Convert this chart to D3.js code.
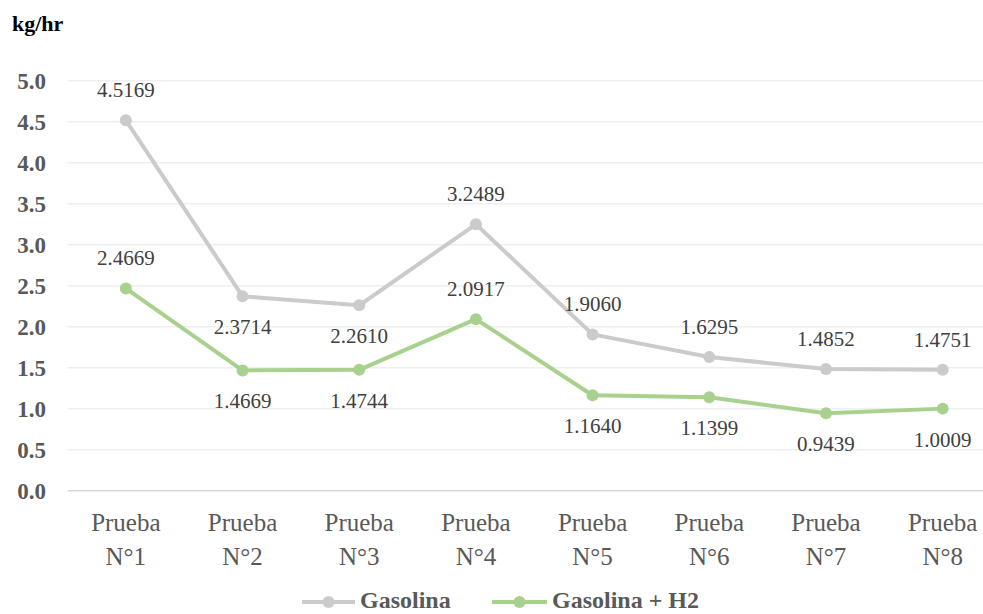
<!DOCTYPE html>
<html><head><meta charset="utf-8"><script src="https://cdn.jsdelivr.net/npm/d3@7"></script></head>
<body style="margin:0;background:#ffffff">
<svg id="s" width="983" height="614" style="display:block"></svg>
<script>
// Consumo de combustible por prueba (kg/hr)
const categories = ["Prueba N°1", "Prueba N°2", "Prueba N°3", "Prueba N°4",
                    "Prueba N°5", "Prueba N°6", "Prueba N°7", "Prueba N°8"];
const gasolina   = [4.5169, 2.3714, 2.2610, 3.2489, 1.9060, 1.6295, 1.4852, 1.4751];
const gasolinaH2 = [2.4669, 1.4669, 1.4744, 2.0917, 1.1640, 1.1399, 0.9439, 1.0009];
// where each value label sits relative to its point
const gasolinaLabelPos   = ["above", "below", "below", "above", "above", "above", "above", "above"];
const gasolinaH2LabelPos = ["above", "below", "below", "above", "below", "below", "below", "below"];
const yTicks = [0, 0.5, 1.0, 1.5, 2.0, 2.5, 3.0, 3.5, 4.0, 4.5, 5.0];
const seriesNames = ["Gasolina", "Gasolina + H2"];
const seriesColors = ["#cbcbcb", "#a9d18e"];

const svg = d3.select("#s");
const W = 983;
const plot = { left: 67.5, right: 1001, top: 80.7, bottom: 490.7 };

const x = d3.scaleBand().domain(categories).range([plot.left, plot.right]);
const cx = d => x(d) + x.bandwidth() / 2;
const y = d3.scaleLinear().domain([0, 5]).range([plot.bottom, plot.top]);

// horizontal gridlines
svg.append("g").selectAll("line").data(yTicks.filter(t => t > 0)).join("line")
  .attr("x1", plot.left).attr("x2", W)
  .attr("y1", d => y(d)).attr("y2", d => y(d))
  .attr("stroke", "#efefef").attr("stroke-width", 1.5);

// baseline axis
svg.append("line")
  .attr("x1", plot.left).attr("x2", W)
  .attr("y1", y(0)).attr("y2", y(0))
  .attr("stroke", "#d9d9d9").attr("stroke-width", 1.5);

// y axis labels
const yAxis = d3.axisLeft(y).tickValues(yTicks).tickFormat(d3.format(".1f")).tickSize(0).tickPadding(0);
const yg = svg.append("g").attr("transform", "translate(46,0)").call(yAxis);
yg.select(".domain").remove();
yg.selectAll("text")
  .style("font-family", '"Liberation Serif"')
  .style("font-size", "23px")
  .style("font-weight", "bold")
  .attr("fill", "#595959")
  .attr("dy", "0.34em");

// unit label
svg.append("text")
  .attr("x", 12).attr("y", 31)
  .style("font-family", '"Liberation Serif"').style("font-size", "22px").style("font-weight", "bold")
  .attr("fill", "#000")
  .text("kg/hr");

// category labels (two lines)
categories.forEach(c => {
  const parts = c.split(" ");
  [531, 565].forEach((yy, k) => {
    svg.append("text")
      .attr("x", cx(c)).attr("y", yy).attr("text-anchor", "middle")
      .style("font-family", '"Liberation Serif"').style("font-size", "25px")
      .attr("fill", "#595959")
      .text(parts[k]);
  });
});

// series lines, markers and value labels
const series = [
  { name: seriesNames[0], values: gasolina, pos: gasolinaLabelPos, color: seriesColors[0] },
  { name: seriesNames[1], values: gasolinaH2, pos: gasolinaH2LabelPos, color: seriesColors[1] }
];
const line = d3.line().x((d, i) => cx(categories[i])).y(d => y(d));

series.forEach(s => {
  svg.append("path")
    .attr("d", line(s.values))
    .attr("fill", "none").attr("stroke", s.color)
    .attr("stroke-width", 4).attr("stroke-linejoin", "round");
  svg.append("g").selectAll("circle").data(s.values).join("circle")
    .attr("cx", (d, i) => cx(categories[i])).attr("cy", d => y(d))
    .attr("r", 6).attr("fill", s.color);
  s.values.forEach((d, i) => {
    svg.append("text")
      .attr("x", cx(categories[i]))
      .attr("y", s.pos[i] === "above" ? y(d) - 23 : y(d) + 38)
      .attr("text-anchor", "middle")
      .style("font-family", '"Liberation Serif"').style("font-size", "21px")
      .attr("fill", "#404040")
      .text(d.toFixed(4));
  });
});

// legend
const legendItems = [
  { x1: 302, x2: 355, tx: 360 },
  { x1: 492, x2: 547, tx: 552 }
];
series.forEach((s, i) => {
  const it = legendItems[i];
  svg.append("line").attr("x1", it.x1).attr("x2", it.x2)
    .attr("y1", 602).attr("y2", 602)
    .attr("stroke", s.color).attr("stroke-width", 4);
  svg.append("circle").attr("cx", (it.x1 + it.x2) / 2).attr("cy", 602)
    .attr("r", 6).attr("fill", s.color);
  svg.append("text").attr("x", it.tx).attr("y", 608)
    .style("font-family", '"Liberation Serif"').style("font-size", "24px").style("font-weight", "bold")
    .attr("fill", "#595959")
    .text(s.name);
});
</script>
</body></html>
